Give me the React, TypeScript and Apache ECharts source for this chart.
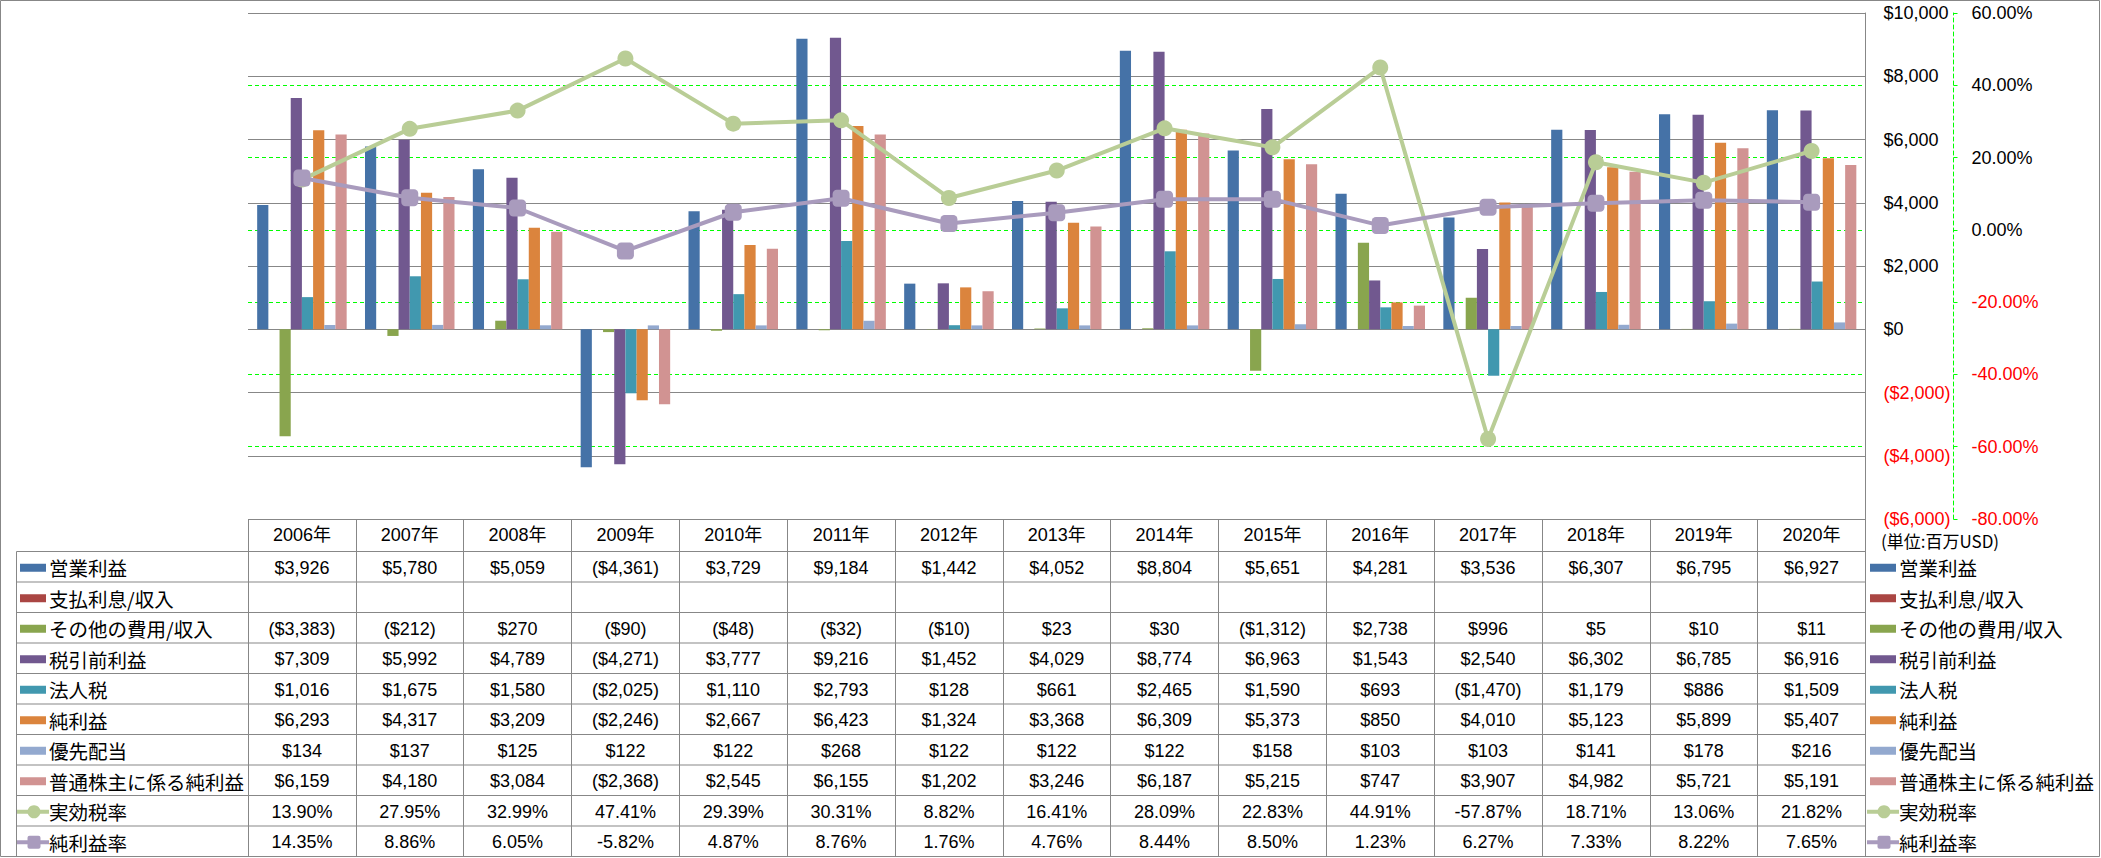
import React, { useEffect, useRef } from "react";
import * as echarts from "echarts";

// ---------- data ----------
const years = ["2006年", "2007年", "2008年", "2009年", "2010年", "2011年", "2012年", "2013年", "2014年", "2015年", "2016年", "2017年", "2018年", "2019年", "2020年"];
const operatingIncome = [3926, 5780, 5059, -4361, 3729, 9184, 1442, 4052, 8804, 5651, 4281, 3536, 6307, 6795, 6927];
const interestIncome: (number | null)[] = [null, null, null, null, null, null, null, null, null, null, null, null, null, null, null];
const otherExpense = [-3383, -212, 270, -90, -48, -32, -10, 23, 30, -1312, 2738, 996, 5, 10, 11];
const preTaxIncome = [7309, 5992, 4789, -4271, 3777, 9216, 1452, 4029, 8774, 6963, 1543, 2540, 6302, 6785, 6916];
const incomeTax = [1016, 1675, 1580, -2025, 1110, 2793, 128, 661, 2465, 1590, 693, -1470, 1179, 886, 1509];
const netIncome = [6293, 4317, 3209, -2246, 2667, 6423, 1324, 3368, 6309, 5373, 850, 4010, 5123, 5899, 5407];
const preferredDividends = [134, 137, 125, 122, 122, 268, 122, 122, 122, 158, 103, 103, 141, 178, 216];
const netIncomeCommon = [6159, 4180, 3084, -2368, 2545, 6155, 1202, 3246, 6187, 5215, 747, 3907, 4982, 5721, 5191];
const effectiveTaxRate = [13.90, 27.95, 32.99, 47.41, 29.39, 30.31, 8.82, 16.41, 28.09, 22.83, 44.91, -57.87, 18.71, 13.06, 21.82];
const netMargin = [14.35, 8.86, 6.05, -5.82, 4.87, 8.76, 1.76, 4.76, 8.44, 8.50, 1.23, 6.27, 7.33, 8.22, 7.65];

const usdAxis = { min: -6000, max: 10000, interval: 2000 };
const pctAxis = { min: -80, max: 60, interval: 20 };
const unitLabel = "(単位:百万USD)";

// ---------- styles / layout ----------
const NUM_FONT = "'Liberation Sans', Arial, 'Noto Sans CJK JP', sans-serif";
const CJK_FONT = "'Noto Sans CJK JP', 'Liberation Sans', sans-serif";
const GRAY = "#878787";
const GREEN_GRID = "#00FF00";
const GRID_L = 248;
const GRID_T = 13;
const GRID_W = 1617.5;
const GRID_H = 506;
const COL_W = GRID_W / years.length;
const HEADER_BOTTOM = 551.5;
const ROW_H = 30.5;
const LABEL_LEFT = 16.5;
const TABLE_RIGHT = GRID_L + GRID_W;

const fmtUsd = (v: number) => {
  const s = "$" + Math.abs(v).toLocaleString("en-US");
  return v < 0 ? "(" + s + ")" : s;
};
const fmtPct = (v: number) => v.toFixed(2) + "%";

type RowDef = {
  name: string;
  data: (number | null)[];
  color: string;
  kind: "bar" | "line";
  symbol?: string;
};

const rows: RowDef[] = [
  { name: "営業利益", data: operatingIncome, color: "#4572A7", kind: "bar" },
  { name: "支払利息/収入", data: interestIncome, color: "#AA4643", kind: "bar" },
  { name: "その他の費用/収入", data: otherExpense, color: "#89A54E", kind: "bar" },
  { name: "税引前利益", data: preTaxIncome, color: "#71588F", kind: "bar" },
  { name: "法人税", data: incomeTax, color: "#4198AF", kind: "bar" },
  { name: "純利益", data: netIncome, color: "#DB843D", kind: "bar" },
  { name: "優先配当", data: preferredDividends, color: "#93A9CF", kind: "bar" },
  { name: "普通株主に係る純利益", data: netIncomeCommon, color: "#D19392", kind: "bar" },
  { name: "実効税率", data: effectiveTaxRate, color: "#B9CD96", kind: "line", symbol: "circle" },
  { name: "純利益率", data: netMargin, color: "#A99BBD", kind: "line", symbol: "roundRect" },
];

function legendKey(x: number, cy: number, row: RowDef): any[] {
  if (row.kind === "bar") {
    return [{ type: "rect", silent: true, shape: { x, y: cy - 3, width: 26, height: 8 }, style: { fill: row.color } }];
  }
  const mid = x + 14;
  const els: any[] = [
    { type: "line", silent: true, shape: { x1: x - 3, y1: cy + 1, x2: x + 29, y2: cy + 1 }, style: { stroke: row.color, lineWidth: 4 } },
  ];
  if (row.symbol === "circle") {
    els.push({ type: "circle", silent: true, shape: { cx: mid, cy: cy + 1, r: 6.5 }, style: { fill: row.color } });
  } else {
    els.push({ type: "rect", silent: true, shape: { x: mid - 6.5, y: cy - 5.5, width: 13, height: 13, r: 2 }, style: { fill: row.color } });
  }
  return els;
}

function buildGraphic(): any[] {
  const g: any[] = [];
  // outer border
  g.push({ type: "rect", silent: true, z: -10, shape: { x: 0.5, y: 0.5, width: 2099, height: 856 }, style: { fill: "none", stroke: GRAY, lineWidth: 1 } });
  // label column left border
  g.push({ type: "line", silent: true, shape: { x1: LABEL_LEFT, y1: HEADER_BOTTOM, x2: LABEL_LEFT, y2: HEADER_BOTTOM + ROW_H * rows.length }, style: { stroke: GRAY, lineWidth: 1 } });
  // horizontal table lines
  for (let i = 0; i <= rows.length; i++) {
    const y = HEADER_BOTTOM + i * ROW_H;
    g.push({ type: "line", silent: true, shape: { x1: LABEL_LEFT, y1: y, x2: TABLE_RIGHT, y2: y }, style: { stroke: GRAY, lineWidth: 1 } });
  }
  rows.forEach((row, i) => {
    const cy = HEADER_BOTTOM + ROW_H * (i + 0.5);
    // left key + label
    g.push(...legendKey(20, cy, row));
    g.push({ type: "text", silent: true, x: 49, y: cy + 1, style: { text: row.name, fontSize: 19.5, fontFamily: CJK_FONT, fill: "#000", align: "left", verticalAlign: "middle" } });
    // right legend
    g.push(...legendKey(1870, cy, row));
    g.push({ type: "text", silent: true, x: 1899, y: cy + 1, style: { text: row.name, fontSize: 19.5, fontFamily: CJK_FONT, fill: "#000", align: "left", verticalAlign: "middle" } });
    // values
    row.data.forEach((v, j) => {
      if (v === null || v === undefined) return;
      const txt = row.kind === "bar" ? fmtUsd(v) : fmtPct(v);
      g.push({ type: "text", silent: true, x: GRID_L + COL_W * (j + 0.5), y: cy + 1, style: { text: txt, fontSize: 18, fontFamily: NUM_FONT, fill: "#000", align: "center", verticalAlign: "middle" } });
    });
  });
  g.push({ type: "text", silent: true, x: 1881, y: 540, style: { text: unitLabel, fontSize: 17, fontFamily: CJK_FONT, fill: "#000", align: "left", verticalAlign: "middle" } });
  return g;
}

function buildOption(): any {
  const series: any[] = rows.map((row) =>
    row.kind === "bar"
      ? {
          type: "bar",
          name: row.name,
          data: row.data,
          yAxisIndex: 0,
          barGap: "0%",
          barCategoryGap: "17%",
          itemStyle: { color: row.color },
          z: 2,
        }
      : {
          type: "line",
          name: row.name,
          data: row.data,
          yAxisIndex: 1,
          symbol: row.symbol,
          symbolSize: row.symbol === "circle" ? 16 : 17,
          showAllSymbol: true,
          lineStyle: { color: row.color, width: 4 },
          itemStyle: { color: row.color },
          z: 3,
        }
  );

  const negColor = (v: any) => (Number(v) < 0 ? "#FF0000" : "#000");

  return {
    animation: false,
    textStyle: { fontFamily: NUM_FONT },
    grid: { left: GRID_L, top: GRID_T, width: GRID_W, height: GRID_H, containLabel: false, outerBoundsMode: "none" },
    xAxis: {
      type: "category",
      data: years,
      position: "bottom",
      axisLine: { show: false, onZero: false },
      axisTick: { show: true, length: 338, lineStyle: { color: GRAY, width: 1 } },
      axisLabel: { interval: 0, margin: 16, verticalAlign: "middle", fontSize: 18, fontFamily: NUM_FONT, color: "#000" },
      splitLine: { show: false },
    },
    yAxis: [
      {
        type: "value",
        position: "right",
        min: usdAxis.min,
        max: usdAxis.max,
        interval: usdAxis.interval,
        axisLine: { show: true, lineStyle: { color: GRAY, width: 1 } },
        axisTick: { show: false },
        axisLabel: { margin: 18, fontSize: 18, fontFamily: NUM_FONT, formatter: (v: number) => fmtUsd(v), color: negColor },
        splitLine: { show: true, lineStyle: { color: GRAY, width: 1 } },
      },
      {
        type: "value",
        position: "right",
        offset: 88,
        min: pctAxis.min,
        max: pctAxis.max,
        interval: pctAxis.interval,
        axisLine: { show: true, lineStyle: { color: GREEN_GRID, width: 1, type: [4, 3] } },
        axisTick: { show: true, length: 4, lineStyle: { color: GREEN_GRID, width: 1 } },
        axisLabel: { margin: 18, fontSize: 18, fontFamily: NUM_FONT, formatter: (v: number) => fmtPct(v), color: negColor },
        splitLine: { show: true, showMinLine: false, showMaxLine: false, lineStyle: { color: GREEN_GRID, width: 1, type: [4, 3] } },
      },
    ],
    series,
    graphic: buildGraphic(),
  };
}

export default function App() {
  const ref = useRef<HTMLDivElement>(null);
  useEffect(() => {
    document.body.style.margin = "0";
    const chart = echarts.init(ref.current as HTMLDivElement, null, { renderer: "svg" });
    chart.setOption(buildOption());
    return () => {
      chart.dispose();
    };
  }, []);
  return <div ref={ref} style={{ width: 2101, height: 858, background: "#fff" }} />;
}
